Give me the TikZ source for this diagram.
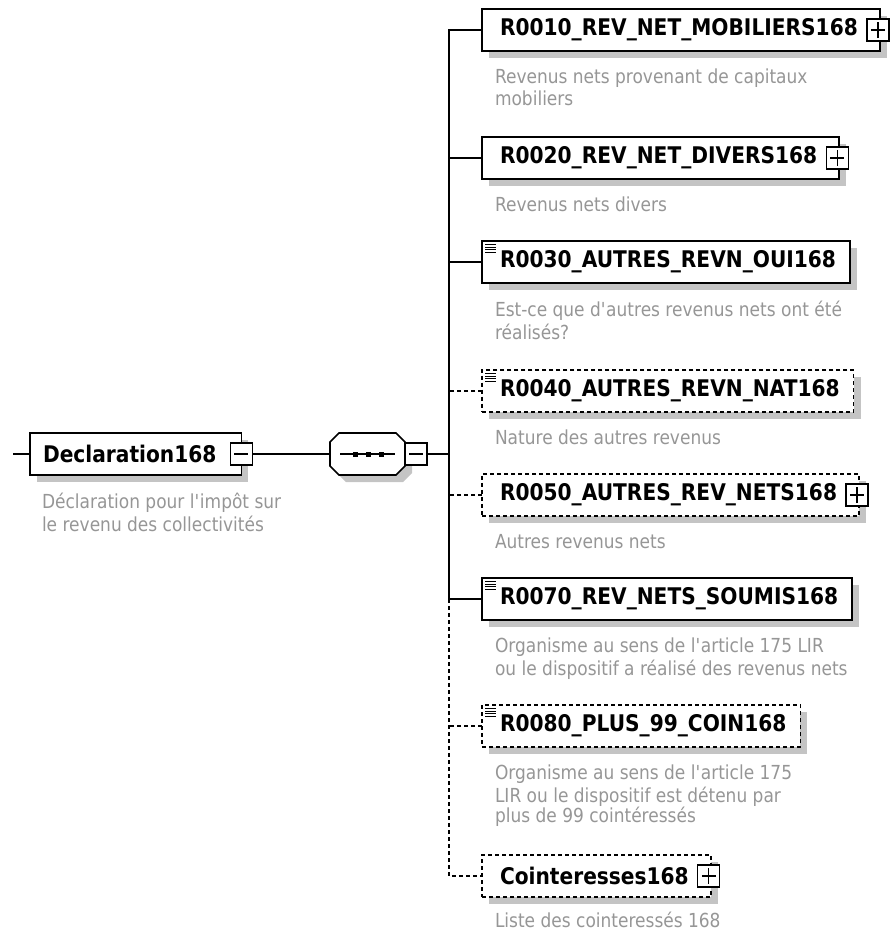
\documentclass[tikz,border=0pt]{standalone}
\usepackage{fontspec}
\setmainfont{DejaVu Sans}[FakeStretch=0.88]
\usetikzlibrary{shadows}
\newlength{\px}\setlength{\px}{0.75pt}
\definecolor{notegray}{RGB}{150,150,150}
\definecolor{shadowgray}{RGB}{196,196,196}
\newcommand{\elemfont}{\fontsize{17.2pt}{20pt}\selectfont\bfseries}
\newcommand{\notefont}{\fontsize{14.5pt}{15pt}\selectfont}

\begin{document}
\begin{tikzpicture}[x=0.75pt,y=-0.75pt,inner sep=0pt,outer sep=0pt,line width=1.2pt,
shade/.style={drop shadow={shadow xshift=7\px,shadow yshift=-7\px,fill=shadowgray,opacity=1}},
elem/.style={draw,fill=white,anchor=west,minimum height=42\px,font=\elemfont,shade},
optline/.style={dash pattern=on 4\px off 3\px},
optelem/.style={elem,optline},
note/.style={anchor=north west,align=left,font=\notefont,text=notegray},
pmbox/.style={draw,fill=white,minimum size=22\px,line width=1pt},
minusbox/.style={pmbox,path picture={\draw[line width=1pt] ([xshift=4\px]path picture bounding box.west) -- ([xshift=-4\px]path picture bounding box.east);}},
plusbox/.style={pmbox,path picture={\draw[line width=1pt] ([xshift=4\px]path picture bounding box.west) -- ([xshift=-4\px]path picture bounding box.east) ([yshift=3\px]path picture bounding box.south) -- ([yshift=-3\px]path picture bounding box.north);}}]

\useasboundingbox (0,0) rectangle (890,935);

\draw (30,454) node[elem] (decl) {\hspace*{13\px}Declaration168\hspace*{25\px}};
\draw (decl.east) node[minusbox] (declpm) {};
\draw ([shift={(12,18)}]decl.south west) node[note] (decldoc) {\strut D\'eclaration pour l\textquotesingle imp\^ot sur\\le revenu des collectivit\'es};

\path (330,454) node[anchor=west,minimum width=75\px,minimum height=42\px] (seq) {};
\filldraw[fill=white,shade] ([xshift=9\px]seq.north west) -- ([xshift=-9\px]seq.north east) -- ([yshift=-9\px]seq.north east)
  -- ([yshift=9\px]seq.south east) -- ([xshift=-9\px]seq.south east) -- ([xshift=9\px]seq.south west)
  -- ([yshift=9\px]seq.south west) -- ([yshift=-9\px]seq.north west) -- cycle;
\draw (seq.east) node[minusbox,anchor=west] (seqpm) {};
\draw ([shift={(-27.5,0)}]seq.center) -- ([shift={(27.5,0)}]seq.center);
\foreach \dx in {-12.5,0.5,13.5}
  \fill ([shift={(\dx-2.5,-2.5)}]seq.center) rectangle ++(5,5);

\draw (482,30) node[elem] (r10) {\hspace*{18\px}R0010\_REV\_NET\_MOBILIERS168\hspace*{22\px}};
\draw (482,158) node[elem] (r20) {\hspace*{18\px}R0020\_REV\_NET\_DIVERS168\hspace*{22\px}};
\draw (482,262) node[elem] (r30) {\hspace*{18\px}R0030\_AUTRES\_REVN\_OUI168\hspace*{14\px}};
\draw (482,391) node[optelem] (r40) {\hspace*{18\px}R0040\_AUTRES\_REVN\_NAT168\hspace*{14\px}};
\draw (482,495) node[optelem] (r50) {\hspace*{18\px}R0050\_AUTRES\_REV\_NETS168\hspace*{22\px}};
\draw (482,599) node[elem] (r70) {\hspace*{18\px}R0070\_REV\_NETS\_SOUMIS168\hspace*{14\px}};
\draw (482,726) node[optelem] (r80) {\hspace*{18\px}R0080\_PLUS\_99\_COIN168\hspace*{14\px}};
\draw (482,876) node[optelem] (coint) {\hspace*{18\px}Cointeresses168\hspace*{22\px}};

\foreach \n in {r10,r20,r50,coint}
  \draw ([xshift=-2\px]\n.east) node[plusbox] (\n pm) {};
\foreach \n in {r30,r40,r70,r80}
  \foreach \k in {0,...,3}
    \draw[line width=0.8pt] ([shift={(3,3.5+\k*2.7)}]\n.north west) -- ++(11,0);

\draw ([shift={(13,18)}]r10.south west) node[note] (r10doc) {\strut Revenus nets provenant de capitaux\\mobiliers};
\draw ([shift={(13,18)}]r20.south west) node[note] (r20doc) {\strut Revenus nets divers};
\draw ([shift={(13,18)}]r30.south west) node[note] (r30doc) {\strut Est-ce que d\textquotesingle autres revenus nets ont \'et\'e\\r\'ealis\'es?};
\draw ([shift={(13,18)}]r40.south west) node[note] (r40doc) {\strut Nature des autres revenus};
\draw ([shift={(13,18)}]r50.south west) node[note] (r50doc) {\strut Autres revenus nets};
\draw ([shift={(13,18)}]r70.south west) node[note] (r70doc) {\strut Organisme au sens de l\textquotesingle article 175 LIR\\ou le dispositif a r\'ealis\'e des revenus nets};
\draw ([shift={(13,18)}]r80.south west) node[note] (r80doc) {\strut Organisme au sens de l\textquotesingle article 175\\LIR ou le dispositif est d\'etenu par\\plus de 99 coint\'eress\'es};
\draw ([shift={(13,15)}]coint.south west) node[note] (cointdoc) {\strut Liste des cointeress\'es 168};

\coordinate (spine) at (449,454);
\draw (decl.west) -- ++(-17,0);
\draw (declpm.east) -- (seq.west);
\draw (seqpm.east) -- (spine);
\draw (r10.west) -| (spine) |- (r70.west);
\draw (r20.west) -- (r20.west -| spine);
\draw (r30.west) -- (r30.west -| spine);
\draw[optline] (r40.west) -- (r40.west -| spine);
\draw[optline] (r50.west) -- (r50.west -| spine);
\draw[optline] (r80.west) -- (r80.west -| spine);
\draw[optline] (r70.west -| spine) |- (coint.west);
\end{tikzpicture}
\end{document}
